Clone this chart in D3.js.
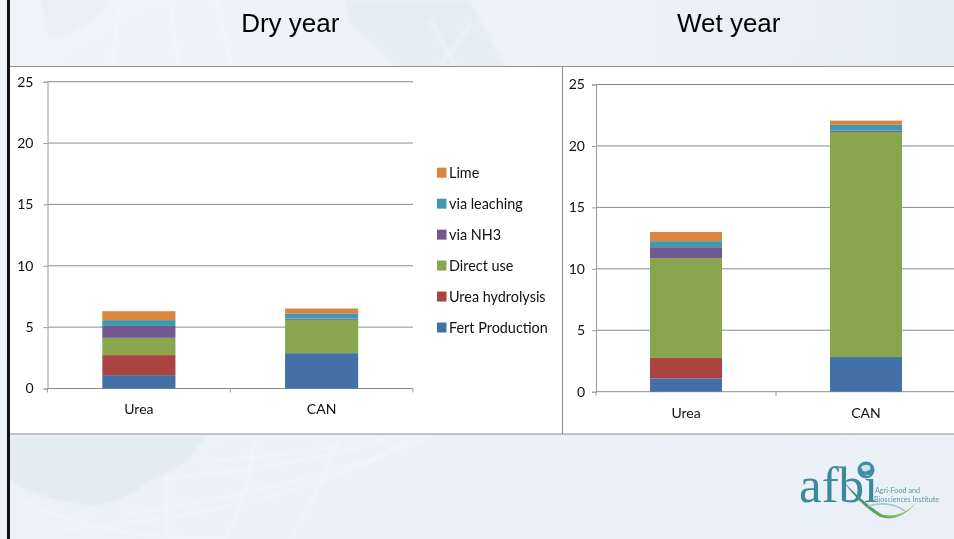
<!DOCTYPE html>
<html>
<head>
<meta charset="utf-8">
<script src="https://cdn.jsdelivr.net/npm/d3@7/dist/d3.min.js"></script>
<style>
html,body{margin:0;padding:0;background:#fff;overflow:hidden}
svg{display:block;filter:blur(0.35px)}
text{font-family:Lato,"Open Sans",sans-serif;fill:#222}
</style>
</head>
<body>
<svg id="c" width="954" height="539"></svg>
<script>
const categories = ["Urea", "CAN"];
const seriesNames = ["Fert Production", "Urea hydrolysis", "Direct use", "via NH3", "via leaching", "Lime"];
const seriesColors = ["#4470a8", "#ab4441", "#89a54e", "#71588f", "#4198af", "#db843d"];
const yTicks = [0, 5, 10, 15, 20, 25];
const titles = ["Dry year", "Wet year"];
const dryUrea = [1.09, 1.63, 1.41, 0.97, 0.47, 0.73];
const dryCAN = [2.88, 0, 2.72, 0.1, 0.42, 0.4];
const wetUrea = [1.08, 1.66, 8.13, 0.89, 0.49, 0.75];
const wetCAN = [2.82, 0, 18.32, 0.11, 0.48, 0.33];

const svg = d3.select("#c");
const defs = svg.append("defs");
const bg = defs.append("linearGradient").attr("id","bg").attr("x1",0).attr("y1",0).attr("x2",1).attr("y2",1);
bg.append("stop").attr("offset",0).attr("stop-color","#eef5f9");
bg.append("stop").attr("offset",1).attr("stop-color","#e9f0f7");
const tr = defs.append("linearGradient").attr("id","tr").attr("x1",0).attr("y1",0).attr("x2",1).attr("y2",0);
tr.append("stop").attr("offset",0).attr("stop-color","#e4edf1").attr("stop-opacity",0);
tr.append("stop").attr("offset",1).attr("stop-color","#e4edf1").attr("stop-opacity",1);
const sw = defs.append("linearGradient").attr("id","sw").attr("x1",0).attr("y1",0).attr("x2",1).attr("y2",0);
sw.append("stop").attr("offset",0).attr("stop-color","#2f7f8e");
sw.append("stop").attr("offset",.55).attr("stop-color","#6aaa4e");
sw.append("stop").attr("offset",1).attr("stop-color","#a9cf8e");
defs.append("filter").attr("id","soft").append("feGaussianBlur").attr("stdDeviation",1.6);

// slide background
svg.append("rect").attr("width",954).attr("height",539).attr("fill","url(#bg)");
svg.append("rect").attr("x",640).attr("width",314).attr("height",67).attr("fill","url(#tr)");
const decoG = svg.append("g").attr("filter","url(#soft)");
decoG.append("path").attr("d","M10 437 H205 Q185 470 150 480 Q120 505 90 505 Q40 500 10 480 Z").attr("fill","#e2ecf1");
decoG.append("path").attr("d","M345 0 H470 L505 66 H395 L375 45 L350 25Z").attr("fill","#e5eff3");
decoG.append("path").attr("d","M40 0 H110 Q90 30 50 38 Z").attr("fill","#e8f0f5");
const deco = decoG.append("g").attr("fill","none").attr("stroke","#f1f6f9").attr("stroke-width",2.2);
[
 "M120 0 Q115 35 112 66","M170 0 L178 66","M215 0 Q225 35 232 66","M430 20 L455 66","M470 25 L440 66",
 "M255 437 Q250 490 225 539","M167 470 L167 539","M340 437 Q320 490 290 539",
 "M430 437 Q300 490 120 515","M400 437 Q280 470 165 478","M385 437 Q300 455 200 462","M415 437 Q300 510 60 530","M20 500 Q100 540 230 539"
].forEach(d=>deco.append("path").attr("d",d));

// panels
svg.append("rect").attr("x",10).attr("y",67).attr("width",944).attr("height",367).attr("fill","#fff");
svg.append("rect").attr("x",7).attr("y",0).attr("width",3).attr("height",539).attr("fill","#111");
[[10,66.5,954,66.5],[10,434,954,434],[562.5,66.5,562.5,434]].forEach(l=>
 svg.append("line").attr("x1",l[0]).attr("y1",l[1]).attr("x2",l[2]).attr("y2",l[3]).attr("stroke","#909090").attr("stroke-width",1.1));

// titles
svg.selectAll("text.title").data(titles).join("text").attr("class","title")
  .attr("x",(d,i)=>[290.3,728.7][i]).attr("y",31.5).attr("text-anchor","middle")
  .style("font-family","'Liberation Sans',Arial,sans-serif").style("font-size","26px").style("fill","#000").text(d=>d);

function chart(box, urea, can){
  const x = d3.scaleBand().domain(categories).range([box.x0,box.x1]).paddingInner(.6).paddingOuter(.3);
  const y = d3.scaleLinear().domain([0,25]).range([box.y0,box.y1]);
  const g = svg.append("g");
  // gridlines
  g.selectAll("line.grid").data(yTicks).join("line").attr("class","grid")
    .attr("x1",box.x0).attr("x2",box.x1).attr("y1",d=>y(d)).attr("y2",d=>y(d))
    .attr("stroke","#8c8c8c").attr("stroke-width",1);
  // y axis
  const ya = g.append("g").attr("transform",`translate(${box.x0},0)`)
    .call(d3.axisLeft(y).tickValues(yTicks).tickSize(4).tickPadding(box.pad));
  ya.selectAll("path,line").attr("stroke","#9a9a9a");
  ya.selectAll("text").style("font-size","14px").style("fill","#111");
  // x axis
  const xa = g.append("g").attr("transform",`translate(0,${box.y0})`)
    .call(d3.axisBottom(x).tickSize(0).tickPadding(16));
  xa.select("path").remove();
  xa.selectAll("text").style("font-size","14px").style("fill","#111");
  const st = x.step();
  g.selectAll("line.xt").data([0,1,2]).join("line").attr("class","xt")
    .attr("x1",i=>box.x0+i*st).attr("x2",i=>box.x0+i*st).attr("y1",box.y0).attr("y2",box.y0+4).attr("stroke","#9a9a9a");
  // stacks
  const rows = categories.map((c,ci)=>{const o={cat:c};seriesNames.forEach((s,i)=>o[s]=[urea,can][ci][i]);return o;});
  const stack = d3.stack().keys(seriesNames)(rows);
  g.selectAll("g.s").data(stack).join("g").attr("class","s").attr("fill",(d,i)=>seriesColors[i])
    .selectAll("rect").data(d=>d).join("rect")
    .attr("x",d=>x(d.data.cat)).attr("width",x.bandwidth())
    .attr("y",d=>y(d[1])).attr("height",d=>y(d[0])-y(d[1]));
}
chart({x0:47.5,x1:413,y0:388.5,y1:81.7,pad:10}, dryUrea, dryCAN);
chart({x0:596,x1:956,y0:391.7,y1:84.5,pad:7}, wetUrea, wetCAN);

// legend
const legendY = d3.scalePoint().domain(seriesNames).range([327.5,172.7]);
const lg = svg.append("g");
lg.selectAll("rect").data(seriesNames).join("rect")
  .attr("x",437).attr("width",9.5).attr("height",10).attr("y",d=>legendY(d)-5)
  .attr("fill",(d,i)=>seriesColors[i]);
lg.selectAll("text").data(seriesNames).join("text")
  .attr("x",449).attr("y",d=>legendY(d)+5).style("font-size","14.4px").style("fill","#111").text(d=>d);

// logo
const logo = svg.append("g");
logo.append("text").attr("x",799).attr("y",501.5).style("font-family","'Liberation Serif',serif").style("font-size","51px").style("fill","#3b8a9c").text("afbi");
logo.append("circle").attr("cx",866).attr("cy",470).attr("r",8.5).attr("fill","#3f8fa3");
logo.append("path").attr("d","M861 467 q4 -4 9 -1 q2 4 -3 5 q-4 2 -6 -4 M864 475 q4 -1 6 1").attr("fill","#cfe3e8");
logo.append("path").attr("d","M843 481 Q860 505 880 517 Q900 523 916 503 Q900 519 882 514.5 Q862 502 843 481Z").attr("fill","url(#sw)");
logo.append("path").attr("d","M868 506 Q890 500 905 511").attr("fill","none").attr("stroke","#a9c9d4").attr("stroke-width",1.8);
logo.append("text").attr("x",875).attr("y",493).style("font-size","7.2px").style("fill","#5b9aa8").text("Agri-Food and");
logo.append("text").attr("x",874).attr("y",502).style("font-size","7.2px").style("fill","#5b9aa8").text("Biosciences Institute");
</script>
</body>
</html>
